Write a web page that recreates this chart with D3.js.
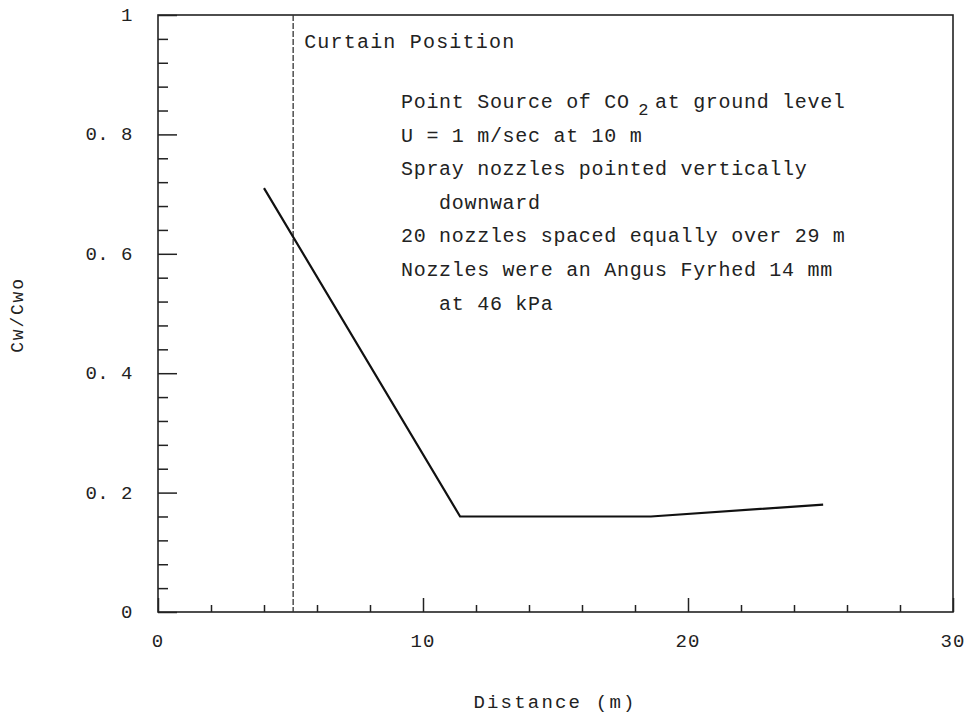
<!DOCTYPE html>
<html>
<head>
<meta charset="utf-8">
<script src="https://cdn.jsdelivr.net/npm/d3@7"></script>
<style>
  body { margin: 0; background: #fff; }
  text { font-family: "Liberation Mono", "DejaVu Sans Mono", monospace; fill: #222; }
</style>
</head>
<body>
<div id="chart"></div>
<script>
// values
var distance = [4, 11.4, 18.6, 25.1]
var ratio = [0.71, 0.16, 0.16, 0.18]
var curtainX = 5.1
var xTicks = [0, 10, 20, 30]
var yTicks = [0, 0.2, 0.4, 0.6, 0.8, 1]
var notes = [
    "Point Source of CO  at ground level",
    "U = 1 m/sec at 10 m",
    "Spray nozzles pointed vertically",
    "   downward",
    "20 nozzles spaced equally over 29 m",
    "Nozzles were an Angus Fyrhed 14 mm",
    "   at 46 kPa"
]

var svg = d3.select("#chart").append("svg")
    .attr("width", 973)
    .attr("height", 717)

var plotLeft = 158, plotRight = 953, plotTop = 15, plotBottom = 612

var x = d3.scaleLinear().domain([0, 30]).range([plotLeft, plotRight])
var y = d3.scaleLinear().domain([0, 1]).range([plotBottom, plotTop])

// frame
svg.append("rect")
    .attr("x", plotLeft).attr("y", plotTop)
    .attr("width", plotRight - plotLeft).attr("height", plotBottom - plotTop)
    .attr("fill", "none")
    .attr("stroke", "#222")
    .attr("stroke-width", 1.6)

// x ticks, pointing up into the plot
var xAxis = d3.axisBottom(x).tickValues(d3.range(0, 31, 2))
    .tickSize(0).tickFormat("")
var gx = svg.append("g").attr("transform", "translate(0," + plotBottom + ")").call(xAxis)
gx.select(".domain").remove()
gx.selectAll(".tick line")
    .attr("y2", function (d) { return d % 10 == 0 ? -14 : -7 })
    .attr("stroke", "#222").attr("stroke-width", 1.5)

svg.selectAll(".xlab")
    .data(xTicks)
    .enter()
    .append("text")
    .attr("class", "xlab")
    .attr("x", function (d) { return x(d) })
    .attr("y", 647)
    .attr("text-anchor", "middle")
    .attr("font-size", 19)
    .attr("letter-spacing", 1)
    .text(function (d) { return d })

// y ticks, pointing right into the plot
var yAxis = d3.axisLeft(y).tickValues(d3.range(0, 26).map(function (i) { return i * 0.04 }))
    .tickSize(0).tickFormat("")
var gy = svg.append("g").attr("transform", "translate(" + plotLeft + ",0)").call(yAxis)
gy.select(".domain").remove()
gy.selectAll(".tick line")
    .attr("x2", function (d, i) { return i % 5 == 0 ? 19 : 10 })
    .attr("stroke", "#222").attr("stroke-width", 1.5)

svg.selectAll(".ylab")
    .data(yTicks)
    .enter()
    .append("text")
    .attr("class", "ylab")
    .attr("x", 133)
    .attr("y", function (d) { return y(d) + 6 })
    .attr("text-anchor", "end")
    .attr("font-size", 19)
    .attr("letter-spacing", 0.5)
    .attr("xml:space", "preserve")
    .text(function (d) { return d == 0 || d == 1 ? d : d.toFixed(1).replace(".", ". ") })

// curtain position
svg.append("line")
    .attr("x1", x(curtainX)).attr("x2", x(curtainX))
    .attr("y1", plotTop).attr("y2", plotBottom)
    .attr("stroke", "#333")
    .attr("stroke-width", 1.3)
    .attr("stroke-dasharray", "6,2")

svg.append("text")
    .attr("x", x(curtainX) + 11)
    .attr("y", 48)
    .attr("font-size", 20)
    .attr("letter-spacing", 1.2)
    .text("Curtain Position")

// data line
var pts = distance.map(function (d, i) { return [d, ratio[i]] })
svg.append("path")
    .datum(pts)
    .attr("d", d3.line().x(function (d) { return x(d[0]) }).y(function (d) { return y(d[1]) }))
    .attr("fill", "none")
    .attr("stroke", "#111")
    .attr("stroke-width", 2.2)

// notes
var noteG = svg.append("g")
noteG.selectAll("text")
    .data(notes)
    .enter()
    .append("text")
    .attr("x", 401)
    .attr("y", function (d, i) { return 108 + i * 33.6 })
    .attr("font-size", 20)
    .attr("letter-spacing", 0.7)
    .attr("xml:space", "preserve")
    .style("white-space", "pre")
    .text(function (d) { return d })

// subscript 2 of CO2
noteG.append("text")
    .attr("x", 401 + 19 * 12.7 - 4)
    .attr("y", 115)
    .attr("font-size", 17)
    .text("2")

// axis titles
svg.append("text")
    .attr("x", 555)
    .attr("y", 708)
    .attr("text-anchor", "middle")
    .attr("font-size", 19)
    .attr("letter-spacing", 2.2)
    .text("Distance (m)")

svg.append("text")
    .attr("transform", "translate(23,315) rotate(-90)")
    .attr("text-anchor", "middle")
    .attr("font-size", 18)
    .attr("letter-spacing", 1.8)
    .text("Cw/Cwo")
</script>
</body>
</html>
